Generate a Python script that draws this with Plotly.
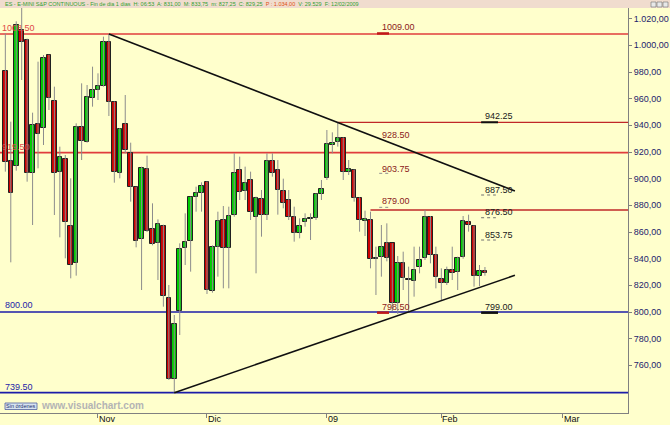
import pandas as pd
import plotly.graph_objects as go

# ---------------- data ----------------
holidays = ["2008-12-25", "2009-01-01"]
dates = [d.strftime("%Y-%m-%d") for d in pd.bdate_range("2008-10-09", "2009-02-12")
         if d.strftime("%Y-%m-%d") not in holidays]

opens = [981, 913.25, 909.75, 1011.5, 1004, 904, 940.75, 937.75, 992.75, 958.5,
         904.75, 914.75, 864.5, 836.5, 938.5, 927.75, 960.25, 966.5, 969.5, 1002.25,
         957.25, 904, 940.75, 919.5, 893.5, 854.5, 907.5, 862, 851.5, 864.75,
         810.25, 749.75, 800.75, 847.75, 853.25, 886.5, 889.5, 897.25, 815.75, 848.5,
         869, 847.75, 872.75, 906.5, 891, 899, 871.5, 884.75, 872.75, 913.5,
         906.5, 891, 884, 871, 859.5, 867.75, 869.5, 870.25, 888.5, 900.25,
         925.25, 927.25, 930.25, 905.25, 906.5, 885.25, 868, 869, 839.75, 841.5,
         851.5, 851.5, 807, 837, 824, 823.5, 833.5, 840.25, 871.5, 842.75,
         824.5, 822, 831.5, 830.25, 841, 867.75, 864.5, 827, 831]
highs = [1009, 942.75, 1018, 1035, 1005, 949.5, 987.75, 992.75, 993, 969,
         924, 917.75, 900.25, 941.5, 971.5, 970.25, 984, 979, 1006.5, 1008.5,
         958, 938, 962.75, 927, 894, 909, 917.25, 881.5, 869.5, 865.5,
         820.25, 797.75, 851.5, 874, 886.5, 894, 897.25, 898, 850, 875.25,
         879.5, 879, 919, 916.5, 909, 905.25, 886.5, 891.5, 919, 919,
         914, 900, 891.5, 879, 870.25, 874, 874, 889, 899, 936.5,
         934.75, 942.25, 931, 914, 907, 886, 876, 875.25, 849, 865.25,
         866.5, 851.5, 842, 845.25, 834, 849, 849, 876.5, 872, 849,
         832.75, 834, 849, 841.5, 872, 873, 865, 835.25, 833.75]
lows = [905.25, 837.25, 906, 974, 897.75, 865.25, 907.75, 925.25, 951.5, 872.75,
        856, 840.25, 825.25, 827.25, 914, 927, 954, 959, 969, 947,
        897, 900.25, 919, 882.75, 848.5, 816.5, 860, 850, 824, 804,
        749, 739.5, 782.75, 835.25, 830.25, 875.25, 875.25, 813.5, 814.5, 826.5,
        817.75, 817.75, 871.5, 884, 884, 869, 829, 856.5, 869, 901.5,
        873, 877.75, 869, 852.75, 855.25, 864, 854, 869, 884, 899,
        919, 924, 899, 902.75, 882.75, 860.25, 857, 832.75, 812.75, 826.5,
        838, 800.5, 798.5, 816.5, 800, 811.5, 829, 839, 836.5, 817.75,
        809, 820.25, 824, 816.5, 840, 860.25, 819, 819.5, 827.25]
closes = [912.25, 889, 1015.25, 1002.75, 904, 940.25, 933.25, 990.25, 960.25, 904,
          916, 867.75, 835.25, 939, 928.25, 961, 966.5, 969.5, 1002.25, 957.75,
          904.75, 937.25, 921.5, 893.5, 853.5, 907.75, 860.75, 851, 865.75, 812.25,
          749.75, 791, 847, 852.25, 886, 889, 894.5, 816.5, 848.5, 868.25,
          847.75, 872, 904.5, 890.25, 897, 874.75, 885.25, 872.75, 913.5, 904,
          891.5, 881.5, 871.5, 859, 864.5, 869.75, 870.75, 888.5, 892, 926,
          927, 930.25, 905.25, 907, 885.25, 869, 870, 839.5, 840.75, 849,
          840.25, 807, 837, 825.25, 824.25, 831.5, 839, 871.5, 842.75, 826,
          821.5, 831.5, 829.5, 840.25, 868.5, 865.25, 827, 831, 829.25]

month_ticks = ["Nov", "Dic", "09", "Feb", "Mar"]
month_tick_pos = [dates.index("2008-11-03"), dates.index("2008-12-01"),
                  dates.index("2009-01-02"), dates.index("2009-02-02"), 102.3]
y_ticks = list(range(760, 1021, 20))

full_red_levels = [1008.5, 919.5]
support_levels = [800.0, 739.5]
partial_levels = [(61, 942.25), (67, 876.5)]          # (start bar, price)
trend_lines = [((19, 1008.5), (93.5, 890.75)), ((31, 739.5), (93.5, 827.5))]

# ---------------- styling ----------------
BG = "#FFFFCC"
FONT = "Liberation Sans, Arial, sans-serif"
LS = 9
X_RANGE = [-0.98, 114.25]
Y_RANGE = [724.25, 1028]

xs = list(range(len(dates)))
fig = go.Figure()

# labels that sit beneath the candles
fig.add_trace(go.Scatter(x=[-0.6, -0.6], y=[1012.6, 923.0], mode="text",
                         text=["1008.50", "919.50"], textposition="middle right",
                         textfont=dict(family=FONT, size=LS, color="#E04848"),
                         hoverinfo="skip", showlegend=False))

# wicks
wx, wy = [], []
for i, h, l in zip(xs, highs, lows):
    wx += [i, i, None]
    wy += [l, h, None]
fig.add_trace(go.Scatter(x=wx, y=wy, mode="lines", line=dict(color="#8C8C8C", width=1),
                         hoverinfo="skip", showlegend=False))

# bodies
base = [min(o, c) for o, c in zip(opens, closes)]
height = [max(abs(c - o), 0.4) for o, c in zip(opens, closes)]
colors = ["#00CC00" if c >= o else "#CC0000" for o, c in zip(opens, closes)]
fig.add_trace(go.Bar(x=xs, y=height, base=base, width=0.84,
                     marker=dict(color=colors, line=dict(color="#202020", width=1)),
                     hovertext=dates, showlegend=False))

shapes = []
for lv in full_red_levels:
    shapes.append(dict(type="line", xref="paper", x0=0, x1=1, yref="y", y0=lv, y1=lv,
                       line=dict(color="#E03C3C", width=1.6), layer="below"))
for lv in support_levels:
    shapes.append(dict(type="line", xref="paper", x0=0, x1=1, yref="y", y0=lv, y1=lv,
                       line=dict(color="#1C1CA8", width=1.6), layer="below"))
for st, lv in partial_levels:
    shapes.append(dict(type="line", xref="x", x0=st, x1=X_RANGE[1], yref="y", y0=lv, y1=lv,
                       line=dict(color="#C02828", width=1.4), layer="below"))
for (x0, y0), (x1, y1) in trend_lines:
    shapes.append(dict(type="line", xref="x", x0=x0, x1=x1, yref="y", y0=y0, y1=y1,
                       line=dict(color="#101010", width=1.6)))

# price markers (underlines)
for x0, x1, lv, col, w, dash in [
    (68.2, 70.4, 1008.9, "#C01818", 2.5, "solid"),
    (68.2, 70.4, 799.5, "#C01818", 2.5, "solid"),
    (87.3, 90.4, 942.3, "#101010", 2, "solid"),
    (87.3, 90.4, 799.5, "#101010", 2.5, "solid"),
    (68.6, 70.6, 904.0, "#909090", 1, "dot"),
    (68.6, 70.6, 878.5, "#909090", 1, "dot"),
    (87.3, 90.0, 887.75, "#707070", 1, "dot"),
    (87.3, 90.0, 870.7, "#707070", 1, "dot"),
    (87.3, 90.0, 854.0, "#707070", 1, "dot"),
]:
    shapes.append(dict(type="line", xref="x", x0=x0, x1=x1, yref="y", y0=lv, y1=lv,
                       line=dict(color=col, width=w, dash=dash)))

# header band
shapes.append(dict(type="rect", xref="paper", yref="paper", x0=0, x1=670 / 628,
                   y0=1, y1=1 + 8 / 405, fillcolor="#F0DCCE", line=dict(width=0)))
# window buttons
for k in range(3):
    shapes.append(dict(type="rect", xref="paper", yref="paper",
                       x0=(651 + 6 * k) / 628, x1=(656 + 6 * k) / 628,
                       y0=1 + 1 / 405, y1=1 + 6 / 405, fillcolor="#E8E8E8",
                       line=dict(color="#707070", width=0.6)))
# "Sin órdenes" box
shapes.append(dict(type="rect", xref="paper", yref="paper", x0=5 / 628, x1=37 / 628,
                   y0=(413 - 409.5) / 405, y1=(413 - 403) / 405, fillcolor="#D8E4F0",
                   line=dict(color="#5060A0", width=0.8)))

annotations = []
def lab(x, y, text, color):
    annotations.append(dict(x=x, y=y, xref="x", yref="y", text=text, showarrow=False,
                            xanchor="left", yanchor="middle",
                            font=dict(family=FONT, size=LS, color=color)))

DR = "#8B1A1A"
lab(68.74, 1013.75, "1009.00", DR)
lab(68.74, 932.4, "928.50", DR)
lab(68.74, 907.6, "903.75", DR)
lab(68.74, 883.6, "879.00", DR)
lab(68.74, 803.4, "798.50", DR)
for y, t in [(946.8, "942.25"), (891.7, "887.50"), (875.2, "876.50"),
             (858.1, "853.75"), (803.75, "799.00")]:
    lab(87.6, y, t, "#202020")
lab(-0.43, 804.9, "800.00", "#1C1CA8")
lab(-0.43, 743.75, "739.50", "#1C1CA8")

for pos, t in zip(month_tick_pos, month_ticks):
    annotations.append(dict(x=pos, y=-6 / 405, xref="x", yref="paper", text=t,
                            showarrow=False, xanchor="left", yanchor="middle", xshift=-1,
                            font=dict(family=FONT, size=LS, color="#101010")))

header = ("ES - E-MINI S&P CONTINUOUS - Fin de dia 1 dias  H: 06:53  A: 831,00  M: 833,75  "
          "m: 827,25  C: 829,25  <span style='color:#E05010'>P : 1.034,00</span>  V: 29.529  "
          "F: 12/02/2009")
annotations.append(dict(x=0, y=1 + 4 / 405, xref="paper", yref="paper", text=header,
                        showarrow=False, xanchor="left", yanchor="middle", xshift=3,
                        font=dict(family=FONT, size=5.5, color="#30A030")))
annotations.append(dict(x=21 / 628, y=(413 - 406.2) / 405, xref="paper", yref="paper",
                        text="Sin órdenes", showarrow=False, xanchor="center",
                        yanchor="middle", font=dict(family=FONT, size=5.5, color="#203070")))
annotations.append(dict(x=39 / 628, y=(413 - 405.5) / 405, xref="paper", yref="paper",
                        text="<b>www.visualchart.com</b>", showarrow=False, xanchor="left",
                        yanchor="middle",
                        font=dict(family=FONT, size=10, color="#B4B4B4")))

def es_fmt(v):
    return f"{v:,.2f}".replace(",", "X").replace(".", ",").replace("X", ".")

fig.update_layout(
    width=670, height=425, autosize=False,
    margin=dict(l=0, r=42, t=8, b=12, pad=0),
    paper_bgcolor=BG, plot_bgcolor=BG,
    showlegend=False, bargap=0,
    shapes=shapes, annotations=annotations,
    xaxis=dict(range=X_RANGE, showgrid=False, zeroline=False, showline=True,
               linecolor="#808080", linewidth=1, ticks="outside", ticklen=4,
               tickcolor="#808080", tickvals=month_tick_pos, showticklabels=False,
               fixedrange=True),
    yaxis=dict(range=Y_RANGE, side="right", showgrid=False, zeroline=False,
               showline=True, linecolor="#808080", linewidth=1, ticks="outside",
               ticklen=3, tickcolor="#808080", tickvals=y_ticks,
               ticktext=[es_fmt(v) for v in y_ticks], ticklabelstandoff=0,
               tickfont=dict(family=FONT, size=LS, color="#1C1C6C"), fixedrange=True),
)

fig.write_html("out.html", config={"displayModeBar": False},
               post_script="document.body.style.margin='0';")
